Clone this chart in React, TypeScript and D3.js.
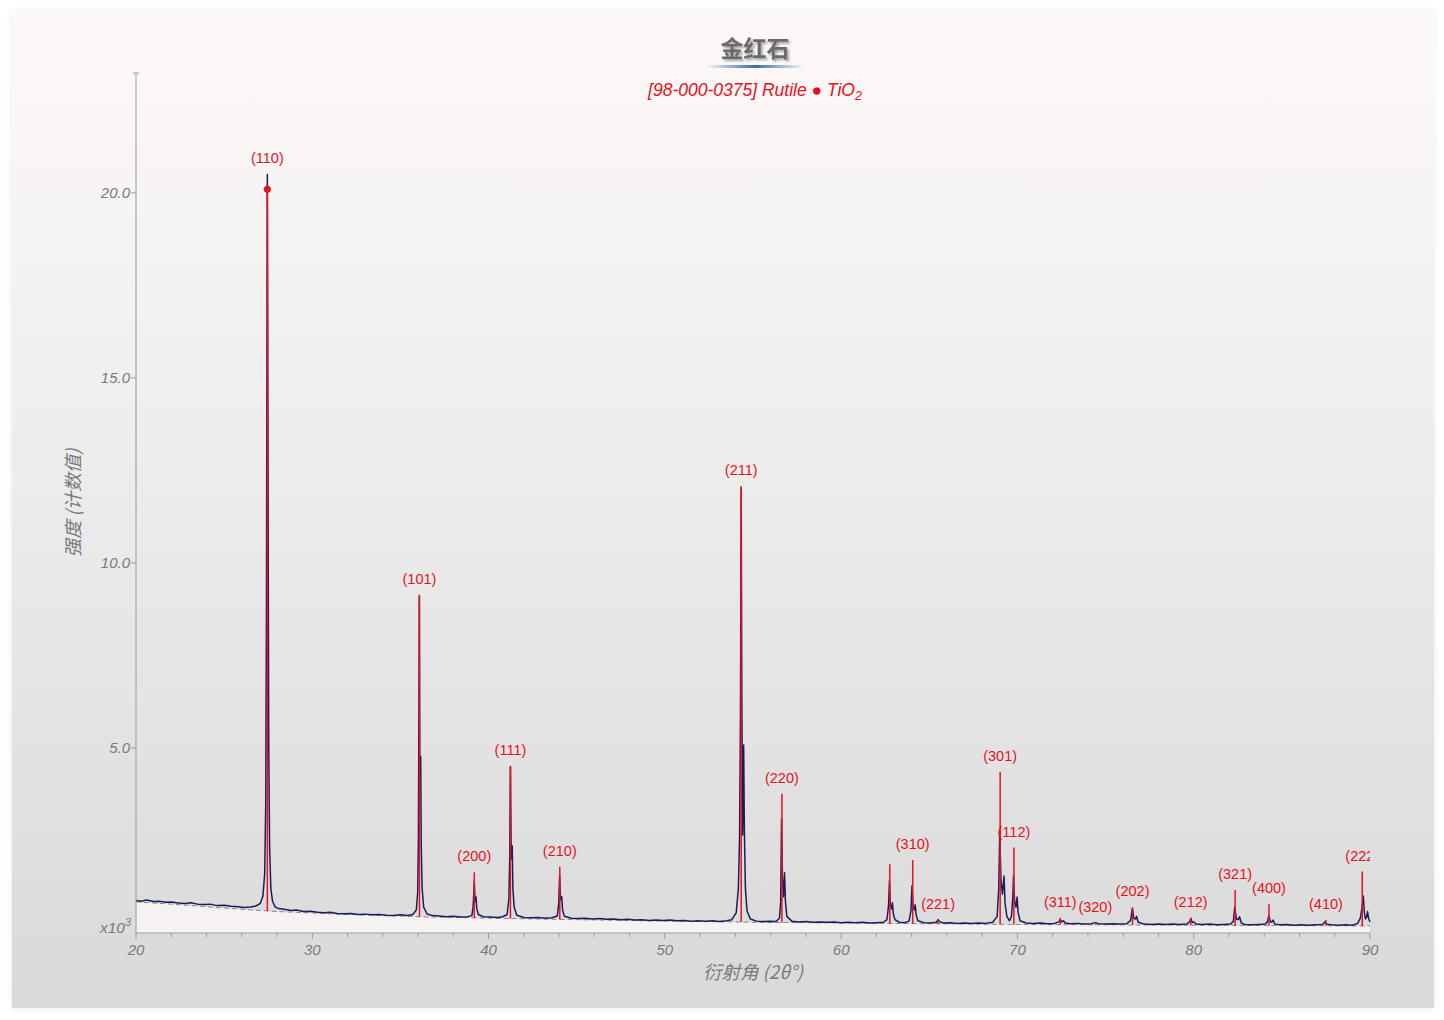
import { useMemo } from "react";
import * as d3 from "d3";

// 2θ (deg) and counts (x10^3)
const OBSERVED: [number, number][] = [
  [20.0, 0.88], [20.3, 0.86], [20.6, 0.89], [21.0, 0.85], [21.3, 0.86], [21.7, 0.83], [22.0, 0.84],
  [22.4, 0.81], [22.8, 0.8], [23.1, 0.82], [23.5, 0.78], [23.9, 0.77], [24.2, 0.78], [24.6, 0.74],
  [25.0, 0.75], [25.4, 0.72], [25.8, 0.71], [26.1, 0.69], [26.5, 0.7], [26.8, 0.73], [27.05, 0.8],
  [27.2, 1.0], [27.3, 1.6], [27.36, 3.5], [27.4, 9.0], [27.43, 16.0], [27.45, 20.5], [27.47, 17.0],
  [27.5, 10.5], [27.53, 5.0], [27.58, 2.3], [27.65, 1.2], [27.75, 0.85], [27.9, 0.7], [28.1, 0.66],
  [28.4, 0.64], [28.8, 0.61], [29.1, 0.62], [29.5, 0.58], [29.9, 0.59], [30.3, 0.56], [30.7, 0.55],
  [31.0, 0.56], [31.4, 0.53], [31.8, 0.52], [32.2, 0.53], [32.6, 0.5], [33.0, 0.51], [33.4, 0.49],
  [33.8, 0.5], [34.2, 0.48], [34.6, 0.47], [35.0, 0.49], [35.4, 0.47], [35.7, 0.5], [35.9, 0.62],
  [35.98, 1.1], [36.02, 2.6], [36.05, 6.2], [36.07, 9.1], [36.1, 4.6], [36.12, 4.2], [36.15, 4.77],
  [36.18, 2.4], [36.23, 1.2], [36.32, 0.7], [36.5, 0.52], [36.8, 0.47], [37.2, 0.46], [37.6, 0.44],
  [38.0, 0.45], [38.4, 0.43], [38.8, 0.44], [39.05, 0.47], [39.12, 0.7], [39.16, 1.05], [39.19, 1.4],
  [39.23, 0.85], [39.27, 0.92], [39.29, 0.97], [39.33, 0.66], [39.42, 0.5], [39.7, 0.44], [40.1, 0.43],
  [40.5, 0.42], [40.8, 0.44], [41.05, 0.5], [41.15, 0.9], [41.2, 2.0], [41.24, 4.5], [41.28, 2.2],
  [41.31, 2.0], [41.34, 2.36], [41.38, 1.2], [41.45, 0.7], [41.6, 0.48], [42.0, 0.42], [42.4, 0.41],
  [42.8, 0.42], [43.2, 0.4], [43.6, 0.41], [43.9, 0.46], [43.98, 0.8], [44.03, 1.57], [44.08, 0.9],
  [44.12, 0.92], [44.15, 0.98], [44.2, 0.62], [44.3, 0.45], [44.7, 0.4], [45.1, 0.39], [45.5, 0.4],
  [45.9, 0.38], [46.3, 0.39], [46.7, 0.37], [47.1, 0.38], [47.5, 0.36], [47.9, 0.37], [48.3, 0.35],
  [48.7, 0.36], [49.1, 0.34], [49.5, 0.35], [49.9, 0.34], [50.3, 0.35], [50.7, 0.33], [51.1, 0.34],
  [51.5, 0.32], [51.9, 0.33], [52.3, 0.32], [52.7, 0.33], [53.1, 0.31], [53.5, 0.33], [53.8, 0.36],
  [54.05, 0.55], [54.17, 1.2], [54.24, 2.6], [54.29, 6.0], [54.33, 12.0], [54.37, 6.0], [54.41, 2.65],
  [54.44, 3.6], [54.47, 5.08], [54.51, 2.8], [54.57, 1.2], [54.66, 0.6], [54.85, 0.38], [55.2, 0.32],
  [55.6, 0.31], [56.0, 0.32], [56.3, 0.31], [56.5, 0.4], [56.57, 0.85], [56.62, 3.08], [56.67, 1.5],
  [56.73, 0.98], [56.76, 1.3], [56.79, 1.63], [56.84, 0.85], [56.92, 0.45], [57.2, 0.32], [57.6, 0.3],
  [58.0, 0.31], [58.4, 0.29], [58.8, 0.3], [59.2, 0.29], [59.6, 0.3], [60.0, 0.28], [60.4, 0.29],
  [60.8, 0.28], [61.2, 0.29], [61.6, 0.27], [62.0, 0.28], [62.4, 0.29], [62.6, 0.36], [62.69, 0.75],
  [62.74, 1.41], [62.79, 0.78], [62.86, 0.65], [62.91, 0.82], [62.96, 0.52], [63.05, 0.36], [63.3, 0.29],
  [63.6, 0.28], [63.85, 0.32], [63.96, 0.6], [64.02, 1.28], [64.08, 0.7], [64.15, 0.62], [64.2, 0.76],
  [64.26, 0.48], [64.35, 0.33], [64.7, 0.28], [65.1, 0.27], [65.4, 0.29], [65.5, 0.36], [65.6, 0.3],
  [65.8, 0.27], [66.2, 0.28], [66.6, 0.26], [67.0, 0.27], [67.4, 0.26], [67.8, 0.27], [68.2, 0.26],
  [68.6, 0.29], [68.85, 0.45], [68.94, 1.2], [69.0, 2.78], [69.06, 1.5], [69.15, 1.05], [69.2, 1.3],
  [69.24, 1.54], [69.3, 0.8], [69.4, 0.45], [69.55, 0.33], [69.66, 0.45], [69.73, 0.9], [69.78, 1.54],
  [69.84, 0.85], [69.92, 0.7], [69.98, 0.97], [70.04, 0.55], [70.15, 0.33], [70.5, 0.27], [70.9, 0.26],
  [71.3, 0.27], [71.7, 0.25], [72.1, 0.26], [72.35, 0.3], [72.43, 0.36], [72.5, 0.3], [72.62, 0.33],
  [72.7, 0.27], [73.0, 0.25], [73.4, 0.26], [73.8, 0.24], [74.2, 0.25], [74.42, 0.28], [74.6, 0.25],
  [75.0, 0.24], [75.4, 0.25], [75.8, 0.24], [76.2, 0.25], [76.42, 0.34], [76.52, 0.67], [76.6, 0.4],
  [76.7, 0.38], [76.76, 0.45], [76.85, 0.29], [77.2, 0.24], [77.6, 0.23], [78.0, 0.24], [78.4, 0.23],
  [78.8, 0.24], [79.2, 0.23], [79.6, 0.24], [79.78, 0.31], [79.84, 0.4], [79.92, 0.28], [80.02, 0.3],
  [80.12, 0.24], [80.5, 0.23], [80.9, 0.24], [81.3, 0.22], [81.7, 0.23], [82.1, 0.24], [82.25, 0.32],
  [82.33, 0.7], [82.42, 0.38], [82.52, 0.36], [82.6, 0.44], [82.7, 0.27], [82.9, 0.23], [83.3, 0.22],
  [83.7, 0.23], [84.05, 0.24], [84.18, 0.3], [84.26, 0.46], [84.36, 0.3], [84.44, 0.3], [84.5, 0.35],
  [84.6, 0.24], [84.9, 0.22], [85.3, 0.23], [85.7, 0.21], [86.1, 0.22], [86.5, 0.21], [86.9, 0.22],
  [87.3, 0.23], [87.45, 0.3], [87.55, 0.24], [87.8, 0.22], [88.2, 0.21], [88.6, 0.22], [89.0, 0.21],
  [89.3, 0.26], [89.45, 0.4], [89.55, 0.7], [89.62, 1.0], [89.68, 0.55], [89.74, 0.38], [89.8, 0.42],
  [89.86, 0.58], [89.92, 0.4], [90.0, 0.3],
];

// fitted background (dashed line)
const BACKGROUND: [number, number][] = [
  [20, 0.84], [22, 0.78], [24, 0.71], [26, 0.64], [28, 0.58], [30, 0.54], [32, 0.5], [34, 0.47],
  [36, 0.44], [40, 0.4], [45, 0.36], [50, 0.32], [55, 0.29], [60, 0.27], [65, 0.25], [70, 0.23],
  [75, 0.22], [80, 0.21], [85, 0.2], [90, 0.19],
];

// reference reflections [98-000-0375] Rutile
const HKL = ["(110)", "(101)", "(200)", "(111)", "(210)", "(211)", "(220)", "(002)", "(310)", "(221)",
  "(301)", "(112)", "(311)", "(320)", "(202)", "(212)", "(321)", "(400)", "(410)", "(222)"];
const TWO_THETA = [27.45, 36.08, 39.19, 41.24, 44.04, 54.33, 56.64, 62.76, 64.06, 65.5,
  69.02, 69.8, 72.43, 74.42, 76.53, 79.83, 82.35, 84.27, 87.5, 89.56];
const REF_INTENSITY = [20.1, 9.14, 1.64, 4.51, 1.79, 12.08, 3.76, 1.86, 1.97, 0.35,
  4.35, 2.31, 0.41, 0.24, 0.69, 0.4, 1.16, 0.78, 0.35, 1.66];
const HIDDEN_LABELS = ["(002)"];

const X_DOMAIN: [number, number] = [20, 90];
const Y_MAX = 23.24;
const Y_TICKS = [5, 10, 15, 20];
const X_MAJOR = [20, 30, 40, 50, 60, 70, 80, 90];
const X_MINOR = d3.range(22, 90, 2).filter((v) => v % 10 !== 0);

const W = 1444;
const H = 1020;
const PLOT = { left: 136, right: 1370, top: 73, bottom: 933 };

const AXIS_COLOR = "#9a9a9a";
const TEXT_COLOR = "#7a7a7a";
const RED = "#e8101c";
const NAVY = "#1c1c5c";

export default function App() {
  const x = d3.scaleLinear().domain(X_DOMAIN).range([PLOT.left, PLOT.right]);
  const y = d3.scaleLinear().domain([0, Y_MAX]).range([PLOT.bottom, PLOT.top]);
  const bg = d3.scaleLinear()
    .domain(BACKGROUND.map((d) => d[0]))
    .range(BACKGROUND.map((d) => d[1]));

  const { obsPath, bgPath, bgArea } = useMemo(() => {
    const line = d3.line<[number, number]>().x((d) => x(d[0])).y((d) => y(d[1]));
    const area = d3.area<[number, number]>().x((d) => x(d[0])).y0(y(0)).y1((d) => y(d[1]));
    return {
      obsPath: line(OBSERVED) ?? "",
      bgPath: line(BACKGROUND) ?? "",
      bgArea: area(BACKGROUND) ?? "",
    };
    // eslint-disable-next-line react-hooks/exhaustive-deps
  }, []);

  const sticks = HKL.map((hkl, i) => {
    const pos = TWO_THETA[i];
    const near = OBSERVED.filter((d) => Math.abs(d[0] - pos) < 0.08).map((d) => d[1]);
    const top = Math.max(REF_INTENSITY[i], d3.max(near) ?? 0);
    return { hkl, pos, ref: REF_INTENSITY[i], top };
  });
  const strongest = d3.greatest(sticks, (s) => s.ref)!;

  const fontLatin = "'Liberation Sans', Arial, sans-serif";
  const fontCjk = "'Noto Sans CJK SC', 'Liberation Sans', sans-serif";

  return (
    <div style={{ position: "absolute", left: 0, top: 0 }}>
      <svg width={W} height={H} style={{ display: "block" }}>
        <defs>
          <linearGradient id="card" x1="0" y1="0" x2="0" y2="1">
            <stop offset="0%" stopColor="#fdf9f8" />
            <stop offset="50%" stopColor="#ecebeb" />
            <stop offset="100%" stopColor="#d9d9d9" />
          </linearGradient>
          <linearGradient id="rule" x1="0" y1="0" x2="1" y2="0">
            <stop offset="0%" stopColor="#3a6ea5" stopOpacity={0} />
            <stop offset="50%" stopColor="#3a6ea5" stopOpacity={1} />
            <stop offset="100%" stopColor="#3a6ea5" stopOpacity={0} />
          </linearGradient>
          <filter id="cardShadow" x="-2%" y="-2%" width="104%" height="104%">
            <feDropShadow dx="0" dy="0" stdDeviation="3" floodColor="#000" floodOpacity="0.08" />
          </filter>
          <filter id="titleShadow" x="-20%" y="-40%" width="140%" height="180%">
            <feDropShadow dx="2" dy="2" stdDeviation="1.2" floodColor="#000" floodOpacity="0.35" />
          </filter>
          <clipPath id="plotClip">
            <rect x={PLOT.left} y={0} width={PLOT.right - PLOT.left} height={PLOT.bottom} />
          </clipPath>
        </defs>

        {/* card */}
        <rect x={12} y={12} width={1422} height={996} fill="url(#card)" filter="url(#cardShadow)" />

        {/* title */}
        <text x={755} y={57} textAnchor="middle" fontFamily={fontCjk} fontSize={23} fontWeight={700}
          fill="#6a6a6a" filter="url(#titleShadow)">金红石</text>
        <rect x={706} y={65} width={98} height={3} fill="url(#rule)" />

        {/* phase legend */}
        <text x={755} y={96} textAnchor="middle" fontFamily={fontLatin} fontSize={17.5}
          fontStyle="italic" fill={RED}>
          [98-000-0375] Rutile ● TiO<tspan fontSize={12.5} dy={4}>2</tspan>
        </text>

        {/* background under fit */}
        <path d={bgArea} fill="#f6f2f2" />
        <path d={bgPath} fill="none" stroke="#8a8a8a" strokeWidth={1} strokeDasharray="5,3" />

        {/* observed pattern */}
        <path d={obsPath} fill="none" stroke={NAVY} strokeWidth={1.5} strokeLinejoin="round" />

        {/* reference sticks */}
        <g clipPath="url(#plotClip)">
          {sticks.map((s) => (
            <line key={s.hkl} x1={x(s.pos)} x2={x(s.pos)} y1={y(bg(s.pos))} y2={y(s.ref)}
              stroke={RED} strokeWidth={1.5} />
          ))}
          <circle cx={x(strongest.pos)} cy={y(strongest.ref)} r={3.5} fill={RED} />
          {sticks.filter((s) => !HIDDEN_LABELS.includes(s.hkl)).map((s) => (
            <text key={s.hkl} x={x(s.pos)} y={y(s.top) - 11} textAnchor="middle"
              fontFamily={fontLatin} fontSize={14.5} fill={RED}>{s.hkl}</text>
          ))}
        </g>

        {/* y axis */}
        <line x1={PLOT.left} x2={PLOT.left} y1={PLOT.top} y2={PLOT.bottom} stroke={AXIS_COLOR} />
        <line x1={PLOT.left - 3} x2={PLOT.left + 3} y1={PLOT.top} y2={PLOT.top} stroke={AXIS_COLOR} />
        {Y_TICKS.map((t) => (
          <g key={t}>
            <line x1={PLOT.left - 5} x2={PLOT.left} y1={y(t)} y2={y(t)} stroke={AXIS_COLOR} />
            <text x={PLOT.left - 6} y={y(t) + 5} textAnchor="end" fontFamily={fontLatin}
              fontSize={15} fontStyle="italic" fill={TEXT_COLOR}>{d3.format(".1f")(t)}</text>
          </g>
        ))}
        <text x={PLOT.left - 5} y={PLOT.bottom} textAnchor="end" fontFamily={fontLatin}
          fontSize={15.5} fontStyle="italic" fill={TEXT_COLOR}>
          x10<tspan fontSize={11} dy={-7}>3</tspan>
        </text>
        <text transform={`translate(80,${(PLOT.top + PLOT.bottom) / 2}) rotate(-90)`}
          textAnchor="middle" fontFamily={fontCjk} fontSize={18.5} fontStyle="italic"
          fill={TEXT_COLOR}>强度 (计数值)</text>

        {/* x axis */}
        <line x1={PLOT.left} x2={PLOT.right} y1={PLOT.bottom} y2={PLOT.bottom} stroke={AXIS_COLOR} />
        {X_MINOR.map((t) => (
          <line key={t} x1={x(t)} x2={x(t)} y1={PLOT.bottom} y2={PLOT.bottom + 4} stroke={AXIS_COLOR} />
        ))}
        {X_MAJOR.map((t) => (
          <g key={t}>
            <line x1={x(t)} x2={x(t)} y1={PLOT.bottom} y2={PLOT.bottom + 6} stroke={AXIS_COLOR} />
            <text x={x(t)} y={PLOT.bottom + 22} textAnchor="middle" fontFamily={fontLatin}
              fontSize={15} fontStyle="italic" fill={TEXT_COLOR}>{t}</text>
          </g>
        ))}
        <text x={753} y={979} textAnchor="middle" fontFamily={fontCjk} fontSize={18.5}
          fontStyle="italic" fill={TEXT_COLOR}>衍射角 (2θ°)</text>
      </svg>
    </div>
  );
}
